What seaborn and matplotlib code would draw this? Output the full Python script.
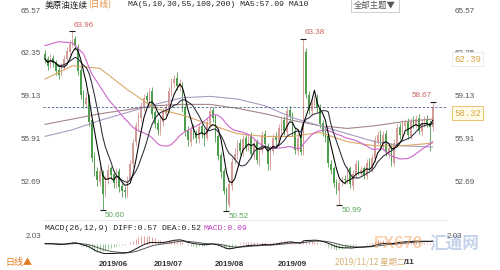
import numpy as np
import pandas as pd
import matplotlib
matplotlib.use("Agg")
import matplotlib.pyplot as plt
import seaborn as sns

# ---------------- data ----------------
open_ = [62.3, 61.9, 61.5, 62.0, 61.6, 61.1, 60.8, 61.3, 61.9, 62.4,
         63.0, 63.4, 62.8, 61.1, 59.3, 58.5, 59.1, 57.3, 54.6, 53.5,
         52.7, 53.4, 51.9, 52.8, 53.7, 53.3, 52.5, 53.5, 52.4, 52.1,
         51.8, 52.9, 54.0, 55.7, 56.8, 57.5, 58.3, 59.1, 58.7, 59.5,
         57.9, 57.1, 56.5, 57.2, 57.8, 58.2, 59.4, 60.1, 60.5, 59.8,
         60.0, 58.3, 56.6, 55.7, 56.7, 56.3, 55.9, 56.9, 56.4, 56.0,
         57.1, 58.1, 57.6, 56.1, 54.7, 53.5, 52.1, 51.0, 52.4, 54.3,
         54.7, 55.6, 54.9, 56.0, 55.2, 56.1, 54.7, 55.7, 54.2, 55.1,
         56.3, 55.4, 53.9, 55.0, 56.1, 55.7, 56.6, 57.3, 56.4, 58.1,
         57.7, 56.5, 55.0, 56.1, 54.9, 62.4, 59.2, 58.0, 58.5, 59.0,
         58.3, 57.1, 56.5, 56.1, 54.0, 53.7, 52.7, 52.0, 52.7, 52.9,
         52.7, 53.7, 52.4, 53.2, 54.1, 53.4, 53.7, 53.1, 54.2, 53.6,
         54.4, 55.7, 56.3, 55.3, 56.3, 54.8, 55.3, 54.1, 55.5, 56.8,
         56.1, 56.9, 57.2, 56.1, 57.3, 56.9, 57.5, 56.4, 57.0, 57.4,
         57.1, 56.8]
high = [62.6, 62.1, 62.3, 62.2, 61.8, 61.3, 61.6, 62.2, 62.8, 63.3,
        63.96, 63.6, 63.0, 61.4, 59.6, 59.4, 59.3, 57.5, 54.9, 53.8,
        53.9, 53.6, 53.2, 54.0, 53.9, 53.6, 53.7, 53.7, 52.6, 52.4,
        53.1, 54.3, 55.9, 57.2, 57.9, 58.7, 59.3, 59.4, 59.7, 59.8,
        58.1, 57.4, 57.6, 58.2, 58.6, 59.8, 60.5, 60.7, 60.94, 60.4,
        60.2, 58.5, 56.9, 56.9, 57.0, 56.6, 57.1, 57.2, 56.7, 57.5,
        58.3, 58.3, 57.8, 56.3, 54.9, 53.7, 52.3, 52.8, 54.5, 55.2,
        55.8, 55.9, 56.2, 56.3, 56.3, 56.4, 55.9, 55.9, 55.3, 56.5,
        56.6, 55.6, 55.4, 56.3, 56.4, 57.0, 57.5, 57.6, 58.3, 58.4,
        57.9, 56.8, 56.3, 56.4, 63.38, 62.7, 59.5, 58.9, 59.2, 59.3,
        58.5, 57.3, 56.8, 56.3, 54.3, 53.9, 52.9, 52.9, 53.1, 53.2,
        53.9, 53.9, 53.6, 54.3, 54.3, 53.9, 53.9, 54.4, 54.5, 54.8,
        56.1, 56.5, 56.6, 56.5, 56.6, 55.5, 55.6, 55.9, 57.0, 57.1,
        57.3, 57.4, 57.5, 57.5, 57.6, 57.7, 57.8, 57.4, 57.6, 57.7,
        57.3, 58.67]
low = [61.6, 61.1, 61.2, 61.3, 60.7, 60.4, 60.6, 61.1, 61.7, 62.2,
       62.8, 62.6, 60.7, 58.9, 58.2, 58.2, 56.9, 54.2, 53.1, 52.4,
       52.4, 50.60, 51.6, 52.5, 52.9, 52.2, 52.2, 51.9, 51.6, 51.5,
       51.6, 52.6, 53.8, 55.4, 56.5, 57.2, 58.0, 58.5, 58.4, 57.5,
       56.7, 56.2, 56.2, 56.9, 57.5, 57.9, 59.1, 59.8, 59.6, 59.5,
       57.9, 56.1, 55.4, 55.4, 55.9, 55.6, 55.6, 56.0, 55.4, 55.8,
       56.8, 57.2, 55.7, 54.3, 53.0, 51.8, 50.52, 50.8, 52.1, 54.0,
       54.4, 54.7, 54.6, 55.0, 55.0, 54.5, 54.4, 54.0, 53.9, 54.8,
       55.2, 53.6, 53.6, 54.8, 55.4, 55.4, 56.3, 56.2, 56.1, 57.3,
       56.1, 54.8, 54.7, 54.7, 54.7, 59.0, 57.8, 57.7, 58.2, 57.9,
       56.7, 56.1, 55.7, 53.8, 53.3, 52.3, 51.8, 50.99, 52.4, 52.5,
       52.5, 52.2, 52.1, 53.0, 53.2, 53.1, 52.9, 52.9, 53.5, 53.4,
       54.2, 55.5, 55.1, 55.1, 54.6, 54.5, 53.9, 53.9, 55.3, 55.9,
       55.8, 56.6, 55.9, 55.9, 56.7, 56.7, 56.3, 56.1, 56.8, 56.8,
       55.0, 56.5]
close = [61.9, 61.4, 62.0, 61.6, 61.0, 60.7, 61.3, 61.9, 62.5, 63.0,
         63.3, 62.9, 61.0, 59.2, 58.6, 59.0, 57.2, 54.5, 53.4, 52.8,
         53.5, 51.8, 52.9, 53.6, 53.2, 52.6, 53.4, 52.3, 52.0, 51.9,
         52.8, 54.0, 55.6, 56.9, 57.6, 58.4, 59.0, 58.8, 59.4, 57.8,
         57.0, 56.6, 57.3, 57.9, 58.3, 59.5, 60.2, 60.4, 59.9, 60.1,
         58.2, 56.5, 55.8, 56.6, 56.2, 56.0, 56.8, 56.3, 55.9, 57.2,
         58.0, 57.5, 56.0, 54.6, 53.4, 52.0, 51.1, 52.5, 54.2, 54.8,
         55.5, 55.0, 55.9, 55.3, 56.0, 54.8, 55.6, 54.3, 55.0, 56.2,
         55.5, 54.0, 55.1, 56.0, 55.8, 56.7, 57.2, 56.5, 58.0, 57.6,
         56.4, 55.1, 56.0, 54.9, 62.9, 59.3, 58.1, 58.6, 58.9, 58.2,
         57.0, 56.4, 56.0, 54.1, 53.6, 52.6, 52.1, 52.6, 52.8, 52.8,
         53.6, 52.5, 53.3, 54.0, 53.5, 53.6, 53.2, 54.1, 53.7, 54.5,
         55.8, 56.2, 55.4, 56.2, 54.9, 55.2, 54.2, 55.6, 56.7, 56.2,
         57.0, 57.1, 56.2, 57.2, 57.0, 57.4, 56.5, 57.1, 57.3, 57.0,
         56.8, 58.3]

# long moving averages (they need history not shown)
ma_idx = [0, 10, 20, 30, 40, 50, 60, 70, 80, 90, 100, 110, 120, 130, 141]
ma30_early_idx = [0, 5, 10, 14, 17, 23, 29]
ma30_early = [62.9, 63.2, 63.1, 62.3, 60.8, 58.9, 57.3]
ma55 = [60.4, 61.4, 61.2, 59.6, 58.2, 57.7, 57.0, 56.3, 56.1, 56.1, 56.4, 55.7, 55.4, 55.4, 55.6]
ma100 = [56.1, 56.6, 57.3, 57.9, 58.5, 59.0, 59.1, 58.9, 58.4, 57.5, 56.9, 56.3, 55.7, 55.4, 55.3]
ma200 = [57.0, 57.4, 57.8, 58.1, 58.4, 58.5, 58.5, 58.2, 57.8, 57.3, 56.9, 56.7, 56.9, 57.2, 57.4]

price_ticks = [65.57, 62.35, 59.13, 55.91, 52.69]
macd_ticks = [2.03]
current_price = 58.32
month_idx = [25, 45, 67, 90]
month_labels = ["2019/06", "2019/07", "2019/08", "2019/09"]
extreme_values = [63.96, 50.60, 50.52, 63.38, 50.99, 58.67]
extreme_kind = ["high", "low", "low", "high", "low", "high"]

# ---------------- frame ----------------
df = pd.DataFrame({"open": open_, "high": high, "low": low, "close": close})
df["i"] = np.arange(len(df))
df["ma5"] = df["close"].rolling(5, min_periods=1).mean()
df["ma10"] = df["close"].rolling(10, min_periods=1).mean()
df["ma30"] = df["close"].rolling(30).mean()
ema12 = df["close"].ewm(span=12, adjust=False).mean()
ema26 = df["close"].ewm(span=26, adjust=False).mean()
df["diff"] = ema12 - ema26
df["dea"] = df["diff"].ewm(span=9, adjust=False).mean()
df["hist"] = 2 * (df["diff"] - df["dea"])
longma = pd.DataFrame({"i": ma_idx, "ma55": ma55, "ma100": ma100, "ma200": ma200})
ma30_head = pd.DataFrame({"i": ma30_early_idx, "ma30": ma30_early})
ma30_all = pd.concat([ma30_head, df.loc[df["i"] >= 29, ["i", "ma30"]]], ignore_index=True)

sns.set_theme(style="white")
plt.rcParams["font.family"] = ["Liberation Sans", "Noto Sans CJK SC", "DejaVu Sans"]
CJK = ["Noto Sans CJK SC", "DejaVu Sans"]
MONO = ["Liberation Mono", "DejaVu Sans Mono"]

W, H = 500, 270
fig = plt.figure(figsize=(5, 2.7), dpi=100)
fig.patch.set_facecolor("white")
fx = lambda px: px / W
fy = lambda py: 1 - py / H

L, R = 43, 447
ax = fig.add_axes([fx(L), fy(220), fx(R) - fx(L), fy(8) - fy(220)])
axm = fig.add_axes([fx(L), fy(258), fx(R) - fx(L), fy(233) - fy(258)], sharex=ax)

UP, DN = "#d49c96", "#4e9e4e"
cols = np.where(df["close"] >= df["open"], UP, DN)
ax.vlines(df["i"], df["low"], df["high"], colors=cols, lw=0.6, zorder=2)
body_bottom = np.minimum(df["open"], df["close"])
body_h = np.maximum((df["close"] - df["open"]).abs(), 0.06)
ax.bar(df["i"], body_h, bottom=body_bottom, width=0.62, color=cols, linewidth=0, zorder=2)

sns.lineplot(data=longma, x="i", y="ma200", ax=ax, color="#a5858a", lw=0.8, legend=False, zorder=3)
sns.lineplot(data=longma, x="i", y="ma100", ax=ax, color="#a99bc4", lw=0.8, legend=False, zorder=3)
sns.lineplot(data=longma, x="i", y="ma55", ax=ax, color="#dba865", lw=0.8, legend=False, zorder=3)
sns.lineplot(data=ma30_all, x="i", y="ma30", ax=ax, color="#cc66cc", lw=0.8, legend=False, zorder=3)
sns.lineplot(data=df, x="i", y="ma10", ax=ax, color="#2b2b3a", lw=0.75, legend=False, zorder=4)
sns.lineplot(data=df, x="i", y="ma5", ax=ax, color="#000000", lw=0.75, legend=False, zorder=4)

ax.axhline(current_price, color="#4a6785", lw=0.6, ls=(0, (3, 2)), zorder=5)

# extremes
hi = np.array(high)
lo = np.array(low)
for v, k in zip(extreme_values, extreme_kind):
    arr = hi if k == "high" else lo
    j = int(np.argmin(np.abs(arr - v)))
    ax.plot([j], [v], marker="_", ms=4, mew=0.8, color="#222222", zorder=6)
    if k == "high":
        if j == len(df) - 1:
            ax.annotate(f"{v:.2f}", (j, v), xytext=(-1, 2), textcoords="offset points",
                        ha="right", va="bottom", fontsize=5.8, color="#c9645c")
        else:
            ax.annotate(f"{v:.2f}", (j, v), xytext=(1, 2), textcoords="offset points",
                        ha="left", va="bottom", fontsize=5.8, color="#c9645c")
    else:
        ax.annotate(f"{v:.2f}", (j, v), xytext=(1.5, -1.5), textcoords="offset points",
                    ha="left", va="top", fontsize=5.8, color="#5aa65a")

ax.set_xlim(-0.7, 146.2)
ax.set_ylim(49.84, 65.72)
ax.set_yticks(price_ticks)
ax.set_yticklabels([f"{t:.2f}" for t in price_ticks])
ax.tick_params(axis="y", length=0, pad=1.5, labelsize=5.8, labelcolor="#555555")
ax.tick_params(axis="x", length=0, labelbottom=False)
ax.set_xlabel("")
ax.set_ylabel("")
for s in ax.spines.values():
    s.set_visible(False)
ax.spines["bottom"].set_visible(True)
ax.spines["bottom"].set_color("#e6e6e6")
ax.spines["bottom"].set_linewidth(0.6)

axr = ax.twinx()
axr.set_ylim(ax.get_ylim())
axr.set_yticks(price_ticks)
axr.set_yticklabels([f"{t:.2f}" for t in price_ticks])
axr.tick_params(axis="y", length=0, pad=5.8, labelsize=5.8, labelcolor="#555555")
for s in axr.spines.values():
    s.set_visible(False)

# MACD panel
hcols = np.where(df["hist"] >= 0, "#dc8f8f", "#7fbf7f")
axm.vlines(df["i"], 0, df["hist"], colors=hcols, lw=0.6, zorder=1)
sns.lineplot(data=df, x="i", y="dea", ax=axm, color="#555555", lw=0.7, legend=False, zorder=2)
sns.lineplot(data=df, x="i", y="diff", ax=axm, color="#111111", lw=0.7, legend=False, zorder=3)
axm.set_ylim(-3.5, 2.6)
axm.set_yticks(macd_ticks)
axm.set_yticklabels([f"{t:.2f}" for t in macd_ticks])
axm.tick_params(axis="y", length=0, pad=1.5, labelsize=5.8, labelcolor="#555555")
axm.set_xticks(month_idx)
axm.set_xticklabels(month_labels, fontsize=5.8, fontweight="bold", color="#333333")
axm.tick_params(axis="x", length=0, pad=2)
axm.set_xlabel("")
axm.set_ylabel("")
for s in axm.spines.values():
    s.set_visible(False)
axmr = axm.twinx()
axmr.set_ylim(axm.get_ylim())
axmr.set_yticks(macd_ticks)
axmr.set_yticklabels([f"{t:.2f}" for t in macd_ticks])
axmr.tick_params(axis="y", length=0, pad=0, labelsize=5.8, labelcolor="#555555")
for s in axmr.spines.values():
    s.set_visible(False)

# header texts
fig.text(fx(45), fy(5), "美原油连续", family=CJK, fontsize=6.2, color="#222222", va="center")
fig.text(fx(88), fy(5), "(日线)", family=CJK, fontsize=6.2, color="#e08a3a", va="center")
fig.text(fx(128), fy(5), "MA(5,10,30,55,100,200) MA5:57.09 MA10", family=MONO,
         fontsize=5.9, color="#222222", va="center")
fig.text(fx(375), fy(5), "全部主题▼", family=CJK, fontsize=6, color="#555555", ha="center", va="center",
         bbox=dict(boxstyle="square,pad=0.35", fc="white", ec="#bbbbbb", lw=0.5))

# MACD label
fig.text(fx(45), fy(229), "MACD(26,12,9) DIFF:0.57 DEA:0.52", family=MONO, fontsize=5.9,
         color="#222222", va="center")
fig.text(fx(203), fy(229), "MACD:0.09", family=MONO, fontsize=5.9, color="#c040c0", va="center")

# right-side value boxes
fig.text(fx(454), fy(59), "62.39", family=MONO, fontsize=6.5, color="#d9a441", va="center",
         bbox=dict(boxstyle="square,pad=0.25", fc="white", ec="#e2e2e2", lw=0.5))
fig.text(fx(454), fy(113), "58.32", family=MONO, fontsize=6.5, color="#d9a441", va="center",
         bbox=dict(boxstyle="square,pad=0.25", fc="#fffbe8", ec="#e6b85c", lw=0.6))

# bottom texts
fig.text(fx(5), fy(262), "日线▲", family=CJK, fontsize=6.5, color="#e07b20", va="center")
fig.text(fx(335), fy(262), "2019/11/12 星期二", family=CJK, fontsize=6.0, color="#d4b070", va="center")
fig.text(fx(404), fy(262), "/11", fontsize=5.8, fontweight="bold", color="#333333", va="center")

# watermark
fig.text(fx(374), fy(244), "FX678", fontsize=12, fontweight="bold", color="#f2a462", alpha=0.5, va="center")
fig.text(fx(430), fy(244), "汇通网", family=CJK, fontsize=12, fontweight="bold", color="#6f8fd0",
         alpha=0.4, va="center")

fig.savefig("out.png", dpi=100)
